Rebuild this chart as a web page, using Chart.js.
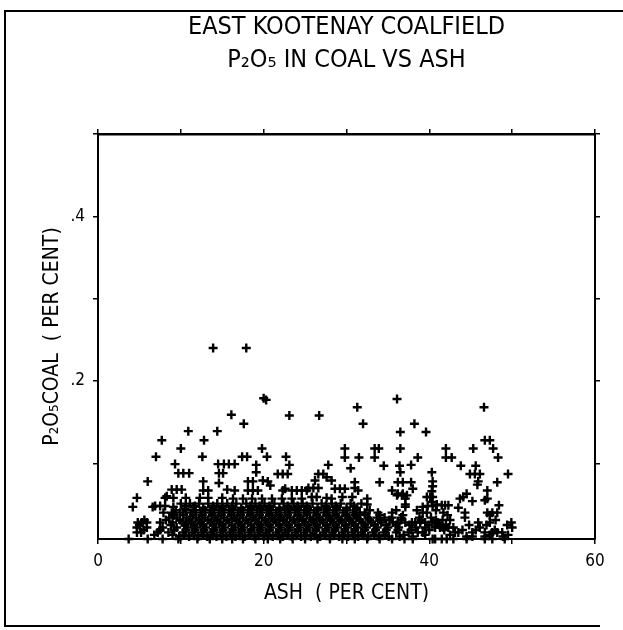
<!DOCTYPE html>
<html>
<head>
<meta charset="utf-8">
<script src="https://cdn.jsdelivr.net/npm/chart.js@4.4.1/dist/chart.umd.min.js"></script>
<style>
html,body{margin:0;padding:0;background:#fff;}
#wrap{width:623px;height:630px;position:relative;background:#fff;}
</style>
</head>
<body>
<div id="wrap"><canvas id="c" width="623" height="630"></canvas></div>
<script>
// ---------- text ----------
const titleLines = ['EAST KOOTENAY COALFIELD', 'P\u2082O\u2085 IN COAL VS ASH'];
const xTitle = 'ASH  ( PER CENT)';
const yTitle = 'P\u2082O\u2085COAL  ( PER CENT)';

// ---------- axes ----------
const xRange = [0, 60];
const yRange = [0.008, 0.5];
const xTicks = [0, 10, 20, 30, 40, 50, 60];
const xTickLabels = ['0', '', '20', '', '40', '', '60'];
const yTicks = [0.1, 0.2, 0.3, 0.4, 0.5];
const yTickLabels = ['', '.2', '', '.4', ''];

// ---------- data: [ash %, P2O5 in coal %] ----------
const upperPoints = [
  [13.9,0.240],[17.9,0.240],[20.0,0.179],[20.3,0.177],[36.1,0.178],[46.6,0.168],[31.3,0.168],
  [16.1,0.159],[23.1,0.158],[26.7,0.158],[17.6,0.148],[14.4,0.139],[10.9,0.139],[32.0,0.148],
  [38.2,0.148],[36.5,0.138],[39.6,0.138],[7.7,0.128],[12.8,0.128],[46.7,0.128],[47.3,0.128],
  [19.8,0.118],[10.0,0.118],[29.8,0.118],[33.4,0.118],[33.9,0.118],[36.5,0.118],[42.0,0.118],
  [45.3,0.118],[47.7,0.118],[7.0,0.108],[12.6,0.108],[20.4,0.108],[17.4,0.108],[18.0,0.108],
  [22.7,0.108],[29.8,0.107],[31.5,0.107],[33.4,0.107],[38.6,0.107],[42.0,0.107],[42.7,0.107],
  [48.3,0.107],[9.3,0.099],[14.5,0.099],[15.2,0.099],[15.8,0.099],[16.5,0.099],[19.1,0.098],
  [23.1,0.098],[27.8,0.098],[34.5,0.097],[36.4,0.097],[37.8,0.098],[43.8,0.097],[45.6,0.097],
  [30.5,0.094]
];

const middlePoints = [
  [9.7,0.088],[10.3,0.088],[11.0,0.088],[14.6,0.088],[15.1,0.088],[19.1,0.089],[21.7,0.087],
  [22.3,0.087],[22.9,0.087],[26.6,0.087],[27.2,0.087],[27.6,0.083],[28.2,0.079],[36.5,0.089],
  [40.3,0.089],[44.9,0.087],[45.5,0.087],[46.1,0.087],[49.5,0.087],
  [6.0,0.078],[12.7,0.078],[14.6,0.076],[18.1,0.078],[18.7,0.078],[20.5,0.078],[19.9,0.079],
  [26.2,0.079],[31.0,0.077],[34.0,0.077],[36.2,0.077],[36.8,0.077],[37.8,0.077],[40.4,0.078],
  [45.9,0.078],[45.8,0.074],[48.2,0.077],[20.8,0.073],
  [8.9,0.068],[9.5,0.068],[10.1,0.068],[12.7,0.067],[13.3,0.067],[16.5,0.067],[18.1,0.067],
  [18.7,0.067],[19.3,0.067],[22.3,0.067],[23.4,0.067],[24.0,0.067],[24.6,0.067],[25.2,0.067],
  [25.4,0.070],[26.0,0.070],[26.6,0.070],[28.6,0.069],[29.2,0.069],[29.8,0.069],[31.0,0.070],
  [31.4,0.067],[35.5,0.067],[36.2,0.063],[36.8,0.063],[40.3,0.066],[40.4,0.072],[38.0,0.069],
  [44.5,0.063],[47.0,0.067],[15.6,0.068],[8.3,0.060],[22.6,0.069],[36.1,0.061],[36.7,0.061],
  [37.3,0.061],[44.1,0.059],[40.1,0.059]
];

const lowerPoints = [
  [4.7,0.058],[8.1,0.058],[9.1,0.058],[10.6,0.058],[12.3,0.058],[13.3,0.058],[15.0,0.058],
  [16.3,0.057],[17.5,0.057],[18.6,0.057],[19.8,0.057],[21.0,0.057],[22.2,0.057],[23.4,0.057],
  [24.6,0.057],[25.8,0.059],[26.4,0.059],[27.6,0.058],[28.2,0.057],[29.5,0.059],[30.7,0.059],
  [32.5,0.057],[37.1,0.057],[40.4,0.059],[43.7,0.057],[45.2,0.054],[46.7,0.055],[47.0,0.057],
  [39.7,0.059],[40.3,0.053],
  [4.2,0.047],[6.6,0.047],[6.9,0.048],[7.5,0.048],[8.1,0.048],[9.1,0.047],[11.5,0.047],
  [10.5,0.045],[12.7,0.046],[13.9,0.046],[15.0,0.046],[16.2,0.046],[17.3,0.046],[18.5,0.046],
  [19.6,0.046],[20.7,0.046],[21.9,0.046],[23.0,0.046],[24.1,0.046],[25.3,0.046],[26.5,0.046],
  [27.6,0.046],[28.8,0.046],[30.0,0.046],[31.2,0.046],[32.5,0.050],[37.1,0.047],[37.1,0.050],
  [39.2,0.047],[39.8,0.048],[40.4,0.048],[40.9,0.050],[41.5,0.049],[41.9,0.049],[42.3,0.049],
  [43.5,0.046],[48.4,0.049]
];

// dense band near the floor: ash values read along each level
const level051 = [10.0,11.1,12.2,13.3,14.4,15.6,16.7,17.9,19.0,20.1,21.3,22.4,23.6,24.7,25.9,27.0,28.2,29.3,30.5,31.8];
const level048 = [10.6,11.7,13.9,15.0,16.2,18.4,19.5,20.7,22.9,24.1,25.2,27.5,28.7,30.9];
const level043 = [9.4,10.6,11.8,12.9,14.0,15.2,16.3,17.5,18.6,19.8,20.9,22.0,23.2,24.3,25.5,26.6,27.8,28.9,30.1,31.2,32.8,36.0,38.5,40.8];
const level040 = [7.9,8.9,9.9,11.2,12.4,13.5,14.6,15.8,16.9,18.1,19.2,20.4,21.5,22.6,23.8,24.9,26.1,27.3,28.4,29.6,30.8,31.6,32.2,33.8,35.5,39.2,39.7,41.7,44.3,47.0,47.6,48.2];
const level037 = [9.2,10.3,11.5,12.6,13.8,14.9,16.1,17.2,18.4,19.5,20.7,21.8,22.9,24.1,25.2,26.4,27.6,28.7,29.9,31.0,32.3,34.0,36.8,42.2,47.3];
const level034 = [8.6,9.5,10.7,11.8,12.9,14.1,15.2,16.4,17.5,18.7,19.8,21.0,22.1,23.2,24.4,25.6,26.7,27.9,29.0,30.2,31.3,32.6,33.7,34.6,35.5,36.6,38.8,40.2,44.3];
const level031 = [5.6,8.2,9.9,11.0,12.2,13.3,14.4,15.6,16.7,17.9,19.0,20.2,21.3,22.4,23.6,24.7,25.9,27.0,28.1,29.3,30.4,31.6,32.8,34.0,35.2,36.6,39.0,40.8,41.6,42.5,48.0];
const level028 = [4.8,5.3,5.9,7.5,9.0,10.2,11.3,12.4,13.6,14.7,15.8,17.0,18.1,19.3,20.4,21.5,22.7,23.8,25.0,26.1,27.2,28.4,29.5,30.7,31.9,33.0,34.2,35.6,36.2,37.1,37.9,38.3,38.9,39.5,40.4,41.0,45.9,47.3,49.9];
const level025 = [5.0,8.8,10.5,11.6,12.7,13.9,15.0,16.2,17.3,18.5,19.6,20.7,21.9,23.0,24.2,25.3,26.4,27.6,28.7,29.9,31.0,32.2,33.4,34.8,36.0,37.6,39.9,41.2,42.0,44.8,46.9,49.4];
const level022 = [4.7,5.9,7.8,9.5,10.8,11.9,13.0,14.2,15.3,16.5,17.6,18.8,19.8,20.9,22.1,23.2,24.4,25.5,26.6,27.8,28.9,30.1,31.3,32.4,33.7,35.0,36.3,38.4,39.5,40.7,41.3,41.7,42.3,42.9,46.1,50.0];
const level019 = [5.5,7.5,9.2,10.6,11.7,12.8,14.0,15.1,16.3,17.4,18.5,19.6,20.7,21.9,23.0,24.1,25.2,26.3,27.5,28.6,29.8,31.0,32.2,33.5,34.8,36.2,37.8,40.0,41.8,44.0,45.6,47.9];
const level016 = [4.7,5.2,7.2,8.5,10.3,11.4,12.5,13.6,14.8,15.9,17.0,18.2,19.3,20.3,21.5,22.6,23.8,24.9,26.0,27.2,28.3,29.5,30.7,31.8,33.2,34.5,36.0,37.5,38.6,39.2,43.1,43.5,45.2,46.7,47.6,48.2,48.8];
const level013 = [6.8,9.0,10.4,11.6,12.7,13.8,14.9,16.0,17.1,18.3,19.4,20.6,21.7,22.9,24.0,25.1,26.2,27.4,28.5,29.7,30.8,32.0,33.3,34.6,36.9,39.5,42.5,47.3,49.5];
const level011 = [9.8,11.0,12.1,13.2,14.3,15.5,16.6,17.7,18.9,20.0,21.1,22.3,23.4,24.5,25.7,26.8,28.0,29.1,30.2,31.4,32.6,33.9,35.1,36.4,38.0,44.5,45.2,46.7,48.9];
const level008 = [3.7,6.0,7.8,9.7,12.0,13.5,15.0,16.2,17.5,19.0,20.5,22.0,23.5,25.0,26.5,28.0,29.5,31.0,32.5,34.0,35.5,37.0,38.0,40.4,40.7,41.5,42.1,42.9,44.5,46.7,47.6,49.1];
const denseLevels = [
  [0.051, level051],[0.048, level048],[0.043, level043],[0.040, level040],[0.037, level037],
  [0.034, level034],[0.031, level031],[0.028, level028],[0.025, level025],[0.022, level022],
  [0.019, level019],[0.016, level016],[0.013, level013],[0.011, level011],[0.008, level008]
];

// ---------- build chart data ----------
const points = [];
[upperPoints, middlePoints, lowerPoints].forEach(g => g.forEach(p => points.push({x: p[0], y: p[1]})));
denseLevels.forEach(([lv, xs]) => xs.forEach(x => points.push({x: x, y: lv})));

const FONT = "'Liberation Sans Narrow','DejaVu Sans Condensed','Arial Narrow',sans-serif";
const INK = '#000';

const framePlugin = {
  id: 'pageFrame',
  afterDraw(chart) {
    const ctx = chart.ctx;
    ctx.save();
    ctx.strokeStyle = INK;
    ctx.lineWidth = 2;
    ctx.beginPath();
    ctx.moveTo(623, 11);
    ctx.lineTo(5, 11);
    ctx.lineTo(5, 626);
    ctx.lineTo(600, 626);
    ctx.stroke();
    ctx.restore();
  }
};

const tickFont = {family: FONT, size: 17, weight: 'normal'};
const axisTitleFont = {family: FONT, size: 21, weight: 'normal'};

new Chart(document.getElementById('c'), {
  type: 'scatter',
  data: {
    datasets: [{
      data: points,
      pointStyle: 'cross',
      pointRadius: 4.5,
      pointHoverRadius: 4.5,
      pointBorderWidth: 2.4,
      borderColor: INK,
      backgroundColor: INK,
      clip: false
    }]
  },
  options: {
    responsive: false,
    animation: false,
    devicePixelRatio: 1,
    layout: {padding: {left: 30, right: 0, top: 11, bottom: 0}},
    plugins: {
      legend: {display: false},
      tooltip: {enabled: false},
      title: {
        display: true,
        fullSize: false,
        text: titleLines,
        color: INK,
        font: {family: FONT, size: 25, weight: 'normal', lineHeight: 1.32},
        padding: {top: 0, bottom: 0}
      }
    },
    scales: {
      x: {
        type: 'linear', position: 'bottom', min: xRange[0], max: xRange[1],
        afterBuildTicks: s => { s.ticks = xTicks.map(v => ({value: v})); },
        ticks: {callback: (v, i) => xTickLabels[i], color: INK, font: tickFont, padding: 7, maxRotation: 0, autoSkip: false},
        grid: {drawOnChartArea: false, tickLength: 5, color: INK, lineWidth: 1.5},
        border: {color: INK, width: 2},
        title: {display: true, text: xTitle, color: INK, font: axisTitleFont, padding: {top: 0, bottom: 24}},
        afterFit: s => { s.height = 91; }
      },
      x2: {
        type: 'linear', axis: 'x', position: 'top', min: xRange[0], max: xRange[1],
        afterBuildTicks: s => { s.ticks = xTicks.map(v => ({value: v})); },
        ticks: {display: false},
        grid: {drawOnChartArea: false, tickLength: 5, color: INK, lineWidth: 1.5},
        border: {color: INK, width: 2.5},
        afterFit: s => { s.height = 57; }
      },
      y: {
        type: 'linear', position: 'left', min: yRange[0], max: yRange[1],
        afterBuildTicks: s => { s.ticks = yTicks.map(v => ({value: v})); },
        ticks: {callback: (v, i) => yTickLabels[i], color: INK, font: tickFont, padding: 8, autoSkip: false},
        grid: {drawOnChartArea: false, tickLength: 5, color: INK, lineWidth: 1.5},
        border: {color: INK, width: 2},
        title: {display: true, text: yTitle, color: INK, font: axisTitleFont, padding: {top: 10, bottom: 0}},
        afterFit: s => { s.width = 68; }
      },
      y2: {
        type: 'linear', axis: 'y', position: 'right', min: yRange[0], max: yRange[1],
        afterBuildTicks: s => { s.ticks = yTicks.map(v => ({value: v})); },
        ticks: {display: false},
        grid: {drawOnChartArea: false, tickLength: 5, color: INK, lineWidth: 1.5},
        border: {color: INK, width: 2},
        afterFit: s => { s.width = 28; }
      }
    }
  },
  plugins: [framePlugin]
});
</script>
</body>
</html>
